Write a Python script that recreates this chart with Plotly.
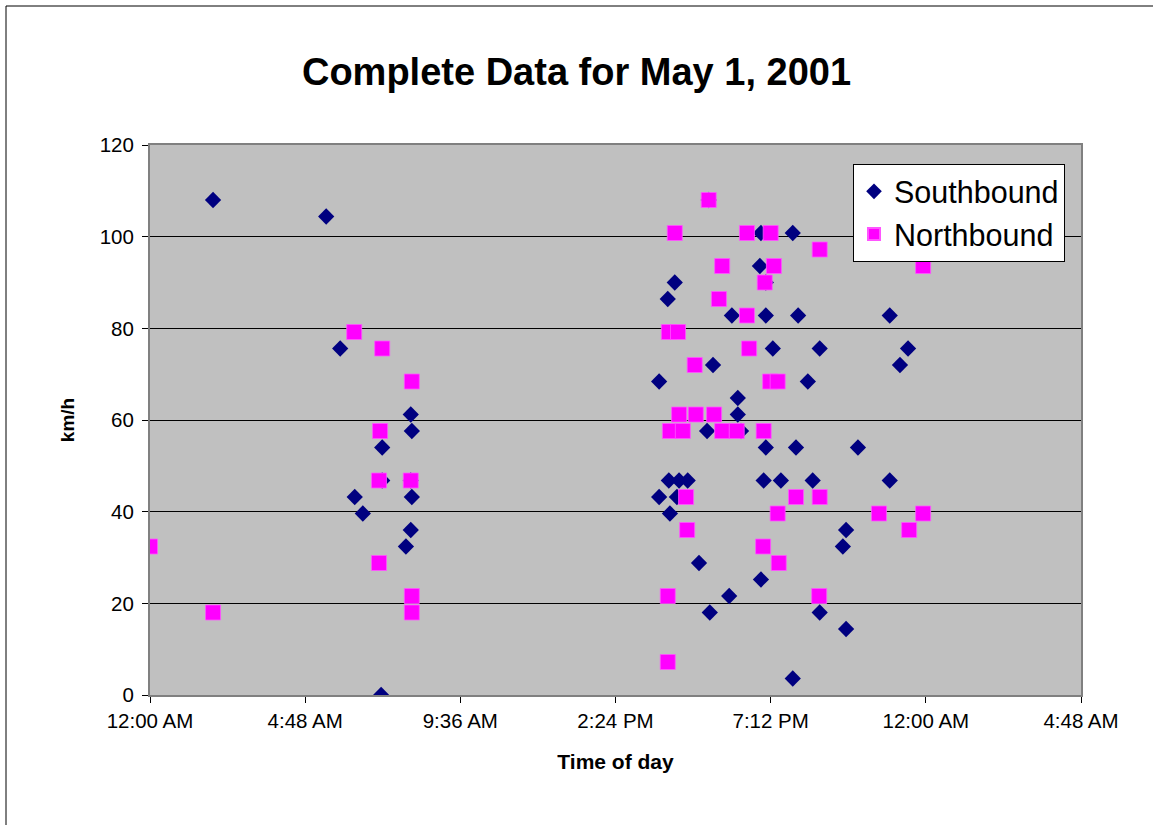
import plotly.graph_objects as go

# Data (time of day "H:MM", speed km/h)
south_times = ["1:57", "5:27", "5:53", "6:20", "6:35", "7:11", "7:09", "7:11",
               "8:04", "8:06", "8:04", "8:06", "8:04", "7:55",
               "15:45", "15:45", "16:01", "16:05", "16:03", "16:14", "16:18", "16:22",
               "16:38", "16:59", "17:14", "17:17", "17:19", "17:25", "17:55", "18:00",
               "18:11", "18:11", "18:17", "18:52", "18:54", "18:54", "18:59", "19:03",
               "19:03", "19:03", "19:16", "19:31", "19:53", "19:53", "19:59", "20:03",
               "20:21", "20:30", "20:43", "20:43", "21:26", "21:32", "21:32", "21:54",
               "22:53", "22:53", "23:12", "23:27"]
south_speeds = [108, 104.4, 75.6, 43.2, 39.6, 54, 0, 46.8,
                61.2, 57.6, 46.8, 43.2, 36, 32.4,
                68.4, 43.2, 86.4, 39.6, 46.8, 90, 43.2, 46.8,
                46.8, 28.8, 57.6, 108, 18, 72, 21.6, 82.8,
                64.8, 61.2, 57.6, 93.6, 100.8, 25.2, 46.8, 54,
                90, 82.8, 75.6, 46.8, 100.8, 3.6, 54, 82.8,
                68.4, 46.8, 75.6, 18, 32.4, 36, 14.4, 54,
                82.8, 46.8, 72, 75.6]

north_times = ["0:00", "1:57", "6:19", "7:11", "8:06", "7:07", "7:05", "8:04",
               "7:05", "8:06", "8:06",
               "16:01", "16:01", "16:03", "16:20", "16:14", "16:05", "16:29", "16:22",
               "16:35", "16:37", "16:51", "16:53", "17:17", "17:27", "17:36", "17:42",
               "17:42", "18:09", "18:28", "18:28", "18:32", "18:58", "18:59", "19:01",
               "19:12", "19:11", "19:25", "19:18", "19:25", "19:27", "19:59", "20:42",
               "20:43", "20:43", "22:33", "23:29", "23:55", "23:55"]
north_speeds = [32.4, 18, 79.2, 75.6, 68.4, 57.6, 46.8, 46.8,
                28.8, 21.6, 18,
                21.6, 7.2, 79.2, 79.2, 100.8, 57.6, 57.6, 61.2,
                43.2, 36, 72, 61.2, 108, 61.2, 86.4, 93.6,
                57.6, 57.6, 100.8, 82.8, 75.6, 32.4, 57.6, 90,
                100.8, 68.4, 68.4, 93.6, 39.6, 28.8, 43.2, 21.6,
                43.2, 97.2, 39.6, 36, 39.6, 93.6]

x_tick_hours = [0, 4.8, 9.6, 14.4, 19.2, 24, 28.8]
x_tick_labels = ["12:00 AM", "4:48 AM", "9:36 AM", "2:24 PM", "7:12 PM", "12:00 AM", "4:48 AM"]
y_ticks = [0, 20, 40, 60, 80, 100, 120]


def to_hours(t):
    h, m = t.split(":")
    return int(h) + int(m) / 60.0


FONT = "Liberation Sans, Arial, sans-serif"

fig = go.Figure()
fig.add_trace(go.Scatter(
    x=[to_hours(t) for t in south_times], y=south_speeds, mode="markers",
    name="Southbound",
    marker=dict(symbol="diamond", size=12.5, color="#000080", line=dict(width=0)),
))
fig.add_trace(go.Scatter(
    x=[to_hours(t) for t in north_times], y=north_speeds, mode="markers",
    name="Northbound",
    marker=dict(symbol="square", size=15, color="#FF00FF", line=dict(width=0.8, color="#FF55FF")),
))

fig.update_layout(
    width=1153, height=825,
    margin=dict(l=150, r=72, t=145, b=130),
    paper_bgcolor="white",
    plot_bgcolor="#C0C0C0",
    font=dict(family=FONT, color="black"),
    title=dict(text="<b>Complete Data for May 1, 2001</b>", x=0.5, xanchor="center",
               y=1 - 72 / 825, yanchor="middle", font=dict(size=38, family=FONT)),
    showlegend=True,
    legend=dict(x=(853 - 150) / 931, y=(695 - 164) / 550, xanchor="left", yanchor="top",
                bgcolor="white", bordercolor="black", borderwidth=1,
                font=dict(size=30.5, family=FONT), itemsizing="constant"),
    xaxis=dict(
        range=[0, 28.8], tickmode="array", tickvals=x_tick_hours, ticktext=x_tick_labels,
        showgrid=False, zeroline=False,
        showline=True, linecolor="#808080", linewidth=2, mirror=True,
        ticks="outside", ticklen=6, tickcolor="black", tickwidth=1,
        tickfont=dict(size=20.5, family=FONT),
        title=dict(text="<b>Time of day</b>", font=dict(size=21, family=FONT), standoff=24),
    ),
    yaxis=dict(
        range=[0, 120], tickmode="array", tickvals=y_ticks,
        showgrid=True, gridcolor="black", gridwidth=1, zeroline=False,
        showline=True, linecolor="#808080", linewidth=2, mirror=True,
        ticks="outside", ticklen=6, tickcolor="black", tickwidth=1,
        tickfont=dict(size=20.5, family=FONT), ticklabelstandoff=4,
        title=dict(text="<b>km/h</b>", font=dict(size=19, family=FONT), standoff=20),
    ),
)

# Outer chart border
fig.add_shape(type="rect", xref="paper", yref="paper",
              x0=(6 - 150) / 931, x1=(1200 - 150) / 931,
              y0=(695 - 900) / 550, y1=(695 - 6) / 550,
              line=dict(color="black", width=1), fillcolor="rgba(0,0,0,0)", layer="below")

fig.write_html("out.html")
